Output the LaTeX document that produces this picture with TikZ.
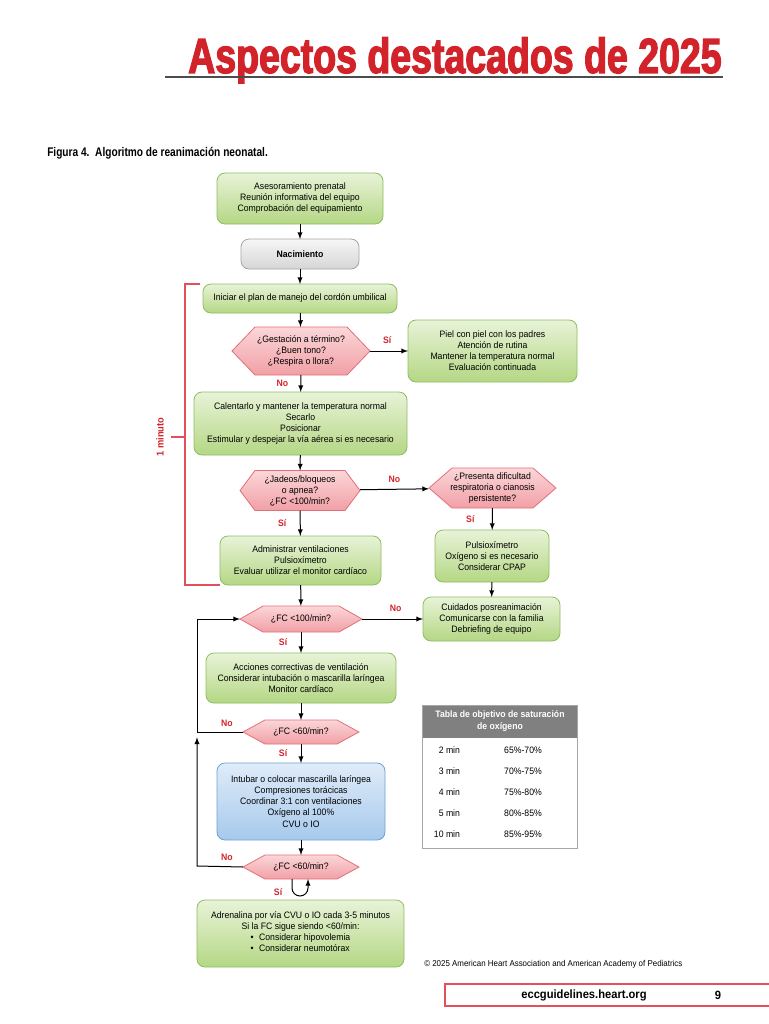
\documentclass[tikz,border=0pt]{standalone}
\usepackage{fontspec}
\setmainfont{Liberation Sans}[FakeStretch=0.93]
\newfontfamily\titlefont{Liberation Sans}[UprightFont={* Bold},FakeStretch=0.76,RawFeature={embolden=2.5}]
\newfontfamily\capfont{Liberation Sans}[UprightFont={* Bold},FakeStretch=0.81]
\usetikzlibrary{backgrounds}

\definecolor{ahared}{RGB}{210,35,42}
\definecolor{brkred}{RGB}{226,80,90}
\definecolor{grnline}{RGB}{140,190,95}
\definecolor{grntop}{RGB}{232,243,216}
\definecolor{grnbot}{RGB}{180,215,132}
\definecolor{hexline}{RGB}{226,112,122}
\definecolor{hextop}{RGB}{251,214,216}
\definecolor{hexbot}{RGB}{241,160,166}
\definecolor{bluline}{RGB}{110,160,212}
\definecolor{blutop}{RGB}{224,236,249}
\definecolor{blubot}{RGB}{166,201,236}
\definecolor{gryline}{RGB}{165,165,165}
\definecolor{grytop}{RGB}{246,246,246}
\definecolor{grybot}{RGB}{214,214,214}
\definecolor{tabgray}{RGB}{128,128,128}

% hexagon behind a decision node: name, tip length
\newcommand\hexa[2]{\path[hexfill] ([xshift=#2]#1.north west) -- ([xshift=-#2]#1.north east) -- (#1.east)
  -- ([xshift=-#2]#1.south east) -- ([xshift=#2]#1.south west) -- (#1.west) -- cycle;}

\begin{document}
\begin{tikzpicture}[x=0.75pt,y=-0.75pt,>=latex,
    txt/.style={align=center,inner sep=0pt,outer sep=0pt,font=\fontsize{7}{8.3}\selectfont},
    greenbox/.style={txt,draw=grnline,top color=grntop,bottom color=grnbot,rounded corners=6pt,line width=0.6pt},
    graybox/.style={txt,draw=gryline,top color=grytop,bottom color=grybot,rounded corners=6pt,line width=0.6pt},
    bluebox/.style={txt,draw=bluline,top color=blutop,bottom color=blubot,rounded corners=6pt,line width=0.6pt},
    hexfill/.style={draw=hexline,top color=hextop,bottom color=hexbot,line width=0.6pt},
    lbl/.style={text=ahared,font=\bfseries\fontsize{7}{8}\selectfont,inner sep=1pt},
    arr/.style={->,line width=0.75pt},
    brk/.style={draw=brkred,line width=0.9pt}]
\useasboundingbox (0,0) rectangle (768,1024);

% heading
\node[anchor=base east,text=ahared,inner sep=0pt,font=\titlefont\fontsize{37}{37}\selectfont] (title) at (722,73) {Aspectos destacados de 2025};
\draw[black!70,line width=1.5pt] (165,77) -- (723,77);
\node[anchor=base west,inner sep=0pt,font=\capfont\fontsize{9.4}{10}\selectfont] (cap) at (47,156) {Figura 4.\ \ Algoritmo de reanimación neonatal.};

% boxes
\node[greenbox,minimum width=124.5pt,minimum height=38.25pt] (pre) at (300,198.5) {Asesoramiento prenatal\\Reunión informativa del equipo\\Comprobación del equipamiento};
\node[graybox,minimum width=88.5pt,minimum height=22.5pt,font=\bfseries\fontsize{7}{8.3}\selectfont] (nac) at (300,254) {Nacimiento};
\node[greenbox,minimum width=145.5pt,minimum height=21.75pt] (ini) at (300,298.5) {Iniciar el plan de manejo del cordón umbilical};
\node[txt,minimum width=103.5pt,minimum height=36pt] (gest) at (301,351) {¿Gestación a término?\\¿Buen tono?\\¿Respira o llora?};
\node[greenbox,minimum width=126.75pt,minimum height=46.5pt] (piel) at (492.5,351) {Piel con piel con los padres\\Atención de rutina\\Mantener la temperatura normal\\Evaluación continuada};
\node[greenbox,minimum width=159.75pt,minimum height=47.25pt] (cal) at (300.5,423.5) {Calentarlo y mantener la temperatura normal\\Secarlo\\Posicionar\\Estimular y despejar la vía aérea si es necesario};
\node[txt,minimum width=90pt,minimum height=30pt] (jad) at (300,490.5) {¿Jadeos/bloqueos\\o apnea?\\¿FC <100/min?};
\node[txt,minimum width=95.25pt,minimum height=30pt] (pres) at (492.5,488) {¿Presenta dificultad\\respiratoria o cianosis\\persistente?};
\node[greenbox,minimum width=120.75pt,minimum height=36.75pt] (adm) at (300.5,560.5) {Administrar ventilaciones\\Pulsioxímetro\\Evaluar utilizar el monitor cardíaco};
\node[greenbox,minimum width=85.5pt,minimum height=39pt] (pulso) at (492,556) {Pulsioxímetro\\Oxígeno si es necesario\\Considerar CPAP};
\node[greenbox,minimum width=102.75pt,minimum height=33pt] (cuid) at (491.5,619) {Cuidados posreanimación\\Comunicarse con la familia\\Debriefing de equipo};
\node[txt,minimum width=91.5pt,minimum height=19.5pt] (fc100) at (301,619) {¿FC <100/min?};
\node[greenbox,minimum width=142.5pt,minimum height=37.5pt] (acc) at (301,678) {Acciones correctivas de ventilación\\Considerar intubación o mascarilla laríngea\\Monitor cardíaco};
\node[txt,minimum width=87pt,minimum height=18pt] (fc60a) at (301,732) {¿FC <60/min?};
\node[bluebox,minimum width=126pt,minimum height=57.75pt] (int) at (301,801.5) {Intubar o colocar mascarilla laríngea\\Compresiones torácicas\\Coordinar 3:1 con ventilaciones\\Oxígeno al 100\%\\CVU o IO};
\node[txt,minimum width=87pt,minimum height=18pt] (fc60b) at (301,867) {¿FC <60/min?};
\node[greenbox,minimum width=155.25pt,minimum height=50.25pt] (adr) at (300.5,933.5) {Adrenalina por vía CVU o IO cada 3-5 minutos\\Si la FC sigue siendo <60/min:\\\begin{tabular}{@{}l@{}}•\hspace{4pt}Considerar hipovolemia\\•\hspace{4pt}Considerar neumotórax\end{tabular}};

\begin{scope}[on background layer]
  \hexa{gest}{17.25pt}
  \hexa{jad}{11.25pt}
  \hexa{pres}{17.25pt}
  \hexa{fc100}{17.25pt}
  \hexa{fc60a}{16.5pt}
  \hexa{fc60b}{16.5pt}
\end{scope}

% connectors
\coordinate (j0) at (197,619);
\coordinate (j1) at (197,732);
\coordinate (j2) at (197,866);
\draw[arr] (pre) -- (nac);
\draw[arr] (nac) -- (ini);
\draw[arr] (ini) -- (gest);
\draw[arr] (gest) -- node[lbl,left=8pt]{No} (cal);
\draw[arr] (gest) -- node[lbl,above=4pt,pos=.45]{Sí} (piel);
\draw[arr] (cal) -- (jad);
\draw[arr] (jad) -- node[lbl,left=9pt]{Sí} (adm);
\draw[arr] (jad) -- node[lbl,above=4pt]{No} (pres);
\draw[arr] (pres) -- node[lbl,left=12pt]{Sí} (pulso);
\draw[arr] (pulso) -- (cuid);
\draw[arr] (adm) -- (fc100);
\draw[arr] (fc100) -- node[lbl,above=4pt,pos=.55]{No} (cuid);
\draw[arr] (fc100) -- node[lbl,left=9pt]{Sí} (acc);
\draw[arr] (acc) -- (fc60a);
\draw[arr] (fc60a) -- node[lbl,left=9pt]{Sí} (int);
\draw[arr] (int) -- (fc60b);
\draw[arr] (fc60a.west) -- node[lbl,above=3pt,pos=.35]{No} (j1) -- (j0) -- (fc100.west);
\draw[arr] (fc60b.west) -- node[lbl,above=3pt,pos=.35]{No} (j2) -- ([yshift=-4pt]j1);
\draw[arr,rounded corners=6pt] ([xshift=-6.75pt]fc60b.south) -- node[lbl,left=6pt,pos=.8]{Sí} ++(0,17) -| ([xshift=5.25pt]fc60b.south);

% one minute bracket
\draw[brk] (200,284) -- (185,284) -- (185,585) -- (220,585);
\draw[brk] (171,437) -- (185,437);
\node[lbl,rotate=90,font=\bfseries\fontsize{7.5}{8}\selectfont] (min) at (160,437) {1 minuto};

% saturation table
\fill[tabgray] (422,705) rectangle (577,738);
\draw[gray!70,line width=0.6pt] (422,705) rectangle (577,848);
\node[txt,text=white,font=\bfseries\fontsize{7}{8.5}\selectfont] (head) at (500,721) {Tabla de objetivo de saturación\\de oxígeno};
\foreach \t/\v [count=\i] in {2/65\%-70\%,3/70\%-75\%,4/75\%-80\%,5/80\%-85\%,10/85\%-95\%}{
  \node[txt,anchor=east] (m\i) at (460,729+21*\i) {\t\ min};
  \node[txt] (p\i) at (523,729+21*\i) {\v};
}

% footer
\node[anchor=west,inner sep=0pt,font=\fontsize{6.4}{7}\selectfont] (copy) at (424,964) {© 2025 American Heart Association and American Academy of Pediatrics};
\draw[brk,line width=0.8pt] (445,984) rectangle (790,1006);
\node[font=\bfseries\fontsize{9}{10}\selectfont] (url) at (584,995) {eccguidelines.heart.org};
\node[font=\bfseries\fontsize{9}{10}\selectfont] (page) at (718,995) {9};
\end{tikzpicture}
\end{document}
